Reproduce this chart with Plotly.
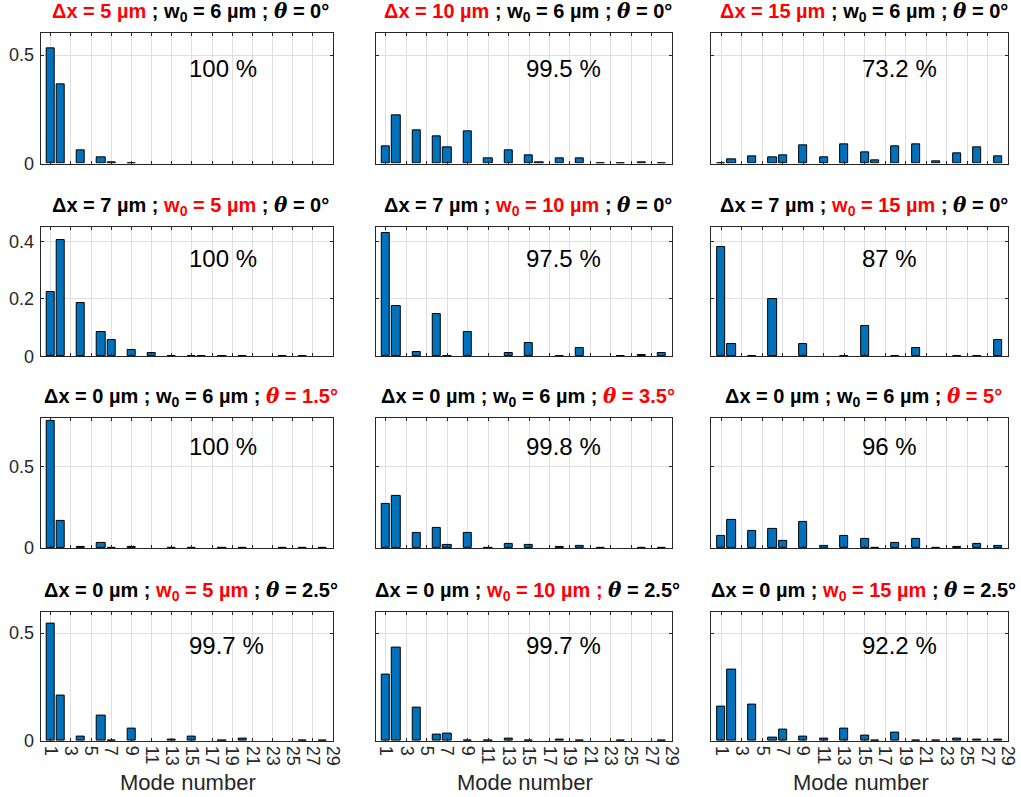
import plotly.graph_objects as go

W, H = 1021, 797
# observed render scale of the page relative to the figure
SX, SY = 0.990, 0.986

modes = list(range(1, 29))
tick_vals = list(range(1, 30, 2))
tick_text = [str(v) for v in tick_vals]

p11 = [0.531, 0.364, 0, 0.060, 0, 0.029, 0.006, 0, 0.002, 0, 0, 0, 0, 0, 0, 0, 0, 0, 0, 0, 0, 0, 0, 0, 0, 0, 0, 0]
p12 = [0.080, 0.220, 0, 0.153, 0, 0.127, 0.076, 0, 0.147, 0, 0.026, 0, 0.060, 0, 0.036, 0.006, 0, 0.022, 0, 0.022, 0, 0.002, 0, 0.003, 0, 0.004, 0, 0.002]
p13 = [0.003, 0.019, 0, 0.033, 0, 0.028, 0.037, 0, 0.084, 0, 0.028, 0, 0.087, 0, 0.053, 0.017, 0, 0.077, 0, 0.090, 0, 0.009, 0, 0.045, 0, 0.076, 0, 0.034]

p21 = [0.222, 0.403, 0, 0.184, 0, 0.084, 0.056, 0, 0.022, 0, 0.010, 0, 0.001, 0, 0.001, 0.002, 0, 0.001, 0, 0.001, 0, 0, 0, 0.001, 0, 0.001, 0, 0]
p22 = [0.429, 0.176, 0, 0.016, 0, 0.148, 0.002, 0, 0.084, 0, 0, 0, 0.010, 0, 0.047, 0, 0, 0.002, 0, 0.029, 0, 0, 0, 0.001, 0, 0.005, 0, 0.012]
p23 = [0.379, 0.043, 0, 0.002, 0, 0.198, 0, 0, 0.041, 0, 0, 0, 0.002, 0, 0.106, 0, 0, 0.001, 0, 0.030, 0, 0, 0, 0.001, 0, 0.002, 0, 0.055]

p31 = [0.782, 0.169, 0, 0.010, 0, 0.033, 0.001, 0, 0.006, 0, 0, 0, 0.001, 0, 0.001, 0, 0, 0.001, 0, 0.001, 0, 0, 0, 0.001, 0, 0.002, 0, 0.002]
p32 = [0.274, 0.319, 0, 0.095, 0, 0.126, 0.021, 0, 0.093, 0, 0.002, 0, 0.023, 0, 0.021, 0, 0, 0.006, 0, 0.012, 0, 0.002, 0, 0, 0, 0.002, 0, 0.002]
p33 = [0.072, 0.173, 0, 0.107, 0, 0.117, 0.047, 0, 0.160, 0, 0.014, 0, 0.076, 0, 0.058, 0.004, 0, 0.031, 0, 0.058, 0, 0.002, 0, 0.008, 0, 0.025, 0, 0.014]

p41 = [0.545, 0.210, 0, 0.022, 0, 0.119, 0.002, 0, 0.057, 0, 0, 0, 0.008, 0, 0.020, 0, 0, 0.001, 0, 0.011, 0, 0, 0, 0, 0, 0.001, 0, 0.002]
p42 = [0.309, 0.434, 0, 0.153, 0, 0.028, 0.035, 0, 0.002, 0, 0.003, 0, 0.012, 0, 0.004, 0, 0, 0.008, 0, 0.001, 0, 0, 0, 0.002, 0, 0, 0, 0.001]
p43 = [0.162, 0.329, 0, 0.167, 0, 0.017, 0.052, 0, 0.022, 0, 0.012, 0, 0.060, 0, 0.025, 0.002, 0, 0.040, 0, 0.001, 0, 0.001, 0, 0.012, 0, 0.009, 0, 0.008]

panels = [p11, p12, p13, p21, p22, p23, p31, p32, p33, p41, p42, p43]
percent_labels = ["100 %", "99.5 %", "73.2 %", "100 %", "97.5 %", "87 %",
                  "100 %", "99.8 %", "96 %", "99.7 %", "99.7 %", "92.2 %"]

row_yrange = [[0, 0.6], [0, 0.45], [0, 0.8], [0, 0.6]]
row_yticks = [[0, 0.5], [0, 0.2, 0.4], [0, 0.5], [0, 0.5]]
row_yticktext = [["0", "0.5"], ["0", "0.2", "0.4"], ["0", "0.5"], ["0", "0.5"]]
row_label_frac = [0.733, 0.753, 0.783, 0.739]

RED = "#ff0000"
TH = "<span style='font-family:DejaVu Serif'><i>θ</i></span>"
W0 = "w<sub>0</sub>"

def red(s):
    return "<span style='color:%s'>%s</span>" % (RED, s)

titles = [
    red("Δx = 5 µm") + " ; " + W0 + " = 6 µm ; " + TH + " = 0°",
    red("Δx = 10 µm") + " ; " + W0 + " = 6 µm ; " + TH + " = 0°",
    red("Δx = 15 µm") + " ; " + W0 + " = 6 µm ; " + TH + " = 0°",
    "Δx = 7 µm ; " + red(W0 + " = 5 µm") + " ; " + TH + " = 0°",
    "Δx = 7 µm ; " + red(W0 + " = 10 µm") + " ; " + TH + " = 0°",
    "Δx = 7 µm ; " + red(W0 + " = 15 µm") + " ; " + TH + " = 0°",
    "Δx = 0 µm ; " + W0 + " = 6 µm ; " + red(TH + " = 1.5°"),
    "Δx = 0 µm ; " + W0 + " = 6 µm ; " + red(TH + " = 3.5°"),
    "Δx = 0 µm ; " + W0 + " = 6 µm ; " + red(TH + " = 5°"),
    "Δx = 0 µm ; " + red(W0 + " = 5 µm") + " ; " + TH + " = 2.5°",
    "Δx = 0 µm ; " + red(W0 + " = 10 µm ;") + " " + TH + " = 2.5°",
    "Δx = 0 µm ; " + red(W0 + " = 15 µm") + " ; " + TH + " = 2.5°",
]

# target pixel boxes for axes (as seen in the picture)
col_px = [(40.7, 333.0), (375.7, 672.0), (711.0, 1008.0)]
row_px = [(33.3, 163.3), (226.7, 355.7), (417.3, 547.3), (610.7, 740.0)]

def fx(px):
    return px / SX / W

def fy(py):
    return 1 - py / SY / H

FONT = "Liberation Sans, Arial, Helvetica, sans-serif"
AXC = "#262626"
GRID = "rgb(223,223,223)"

fig = go.Figure()
layout = dict(
    width=W, height=H,
    margin=dict(l=0, r=0, t=0, b=0),
    paper_bgcolor="white", plot_bgcolor="white",
    showlegend=False,
    font=dict(family=FONT, color=AXC),
    bargap=0,
)
annotations = []

for i, vals in enumerate(panels):
    r, c = divmod(i, 3)
    n = i + 1
    xa = "x" if n == 1 else "x%d" % n
    ya = "y" if n == 1 else "y%d" % n
    xkey = "xaxis" if n == 1 else "xaxis%d" % n
    ykey = "yaxis" if n == 1 else "yaxis%d" % n
    x0, x1 = col_px[c]
    t0, t1 = row_px[r]
    edge_w = [1 if v > 0 else 0 for v in vals]
    fig.add_trace(go.Bar(
        x=modes, y=vals, xaxis=xa, yaxis=ya, width=0.8,
        marker=dict(color="#0072BD", line=dict(color="black", width=edge_w)),
        hoverinfo="x+y",
    ))
    layout[xkey] = dict(
        domain=[fx(x0), fx(x1)], anchor=ya, range=[0, 29],
        tickmode="array", tickvals=tick_vals, ticktext=tick_text,
        showticklabels=(r == 3), tickangle=90,
        tickfont=dict(size=18, color=AXC, family=FONT),
        ticks="inside", ticklen=3, tickcolor=AXC, tickwidth=1,
        showline=True, linecolor=AXC, linewidth=1, mirror="ticks",
        showgrid=True, gridcolor=GRID, gridwidth=1, zeroline=False,
        fixedrange=True,
    )
    layout[ykey] = dict(
        domain=[fy(t1), fy(t0)], anchor=xa, range=row_yrange[r],
        tickmode="array", tickvals=row_yticks[r], ticktext=row_yticktext[r],
        showticklabels=(c == 0), ticklabelstandoff=2,
        tickfont=dict(size=18, color=AXC, family=FONT),
        ticks="inside", ticklen=3, tickcolor=AXC, tickwidth=1,
        showline=True, linecolor=AXC, linewidth=1, mirror="ticks",
        showgrid=True, gridcolor=GRID, gridwidth=1, zeroline=False,
        fixedrange=True,
    )
    # title
    annotations.append(dict(
        xref="paper", yref="paper", x=fx((x0 + x1) / 2 + 4), y=fy(t0 - 21),
        text="<b>" + titles[i] + "</b>", showarrow=False,
        xanchor="center", yanchor="middle",
        font=dict(size=20, color="black", family=FONT),
    ))
    # percentage
    annotations.append(dict(
        xref=xa, yref=ya + " domain", x=14.5, y=row_label_frac[r],
        text=percent_labels[i], showarrow=False,
        xanchor="left", yanchor="middle",
        font=dict(size=24, color="black", family=FONT),
    ))
    if r == 3:
        annotations.append(dict(
            xref="paper", yref="paper", x=fx((x0 + x1) / 2 + 1), y=fy(781),
            text="Mode number", showarrow=False,
            xanchor="center", yanchor="middle",
            font=dict(size=22, color=AXC, family=FONT),
        ))

layout["annotations"] = annotations
fig.update_layout(**layout)
fig.write_html("out.html", config={"displayModeBar": False})
